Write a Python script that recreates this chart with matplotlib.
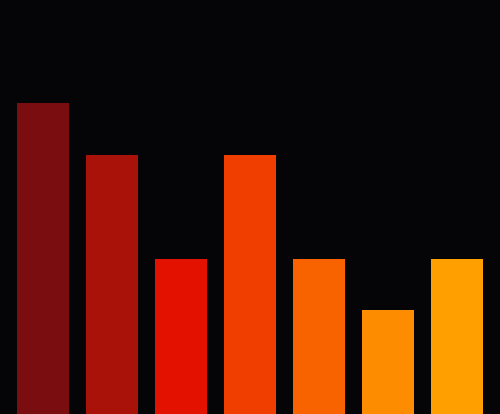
import matplotlib
matplotlib.use("Agg")
import matplotlib.pyplot as plt

categories = ["A", "B", "C", "D", "E", "F", "G"]
values = [6, 5, 3, 5, 3, 2, 3]
colors = ["#7a0d0f", "#a81208", "#e21100", "#ef3e00", "#f86300", "#fd8c00", "#ffa000"]

fig = plt.figure(figsize=(5, 4.145), dpi=100, facecolor="#050507")
ax = fig.add_axes([0, 0, 1, 1])
ax.set_facecolor("#050507")
x = list(range(len(categories)))
ax.bar(x, values, width=0.75, color=colors, edgecolor="none")
ax.set_xlim(-0.623, 6.623)
ax.set_ylim(0, 8)
ax.axis("off")
fig.savefig("out.png", dpi=100, facecolor=fig.get_facecolor())
